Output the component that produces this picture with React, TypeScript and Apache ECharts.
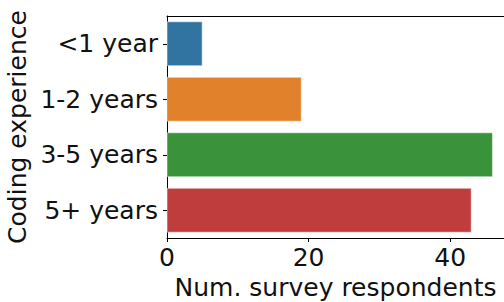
import React, { useEffect, useRef } from "react";
import * as echarts from "echarts";

const categories = ["<1 year", "1-2 years", "3-5 years", "5+ years"];
const respondents = [5, 19, 46, 43];
const barColors = ["#3274a1", "#e1812c", "#3a923a", "#c03d3e"];
const xTicks = [0, 20, 40];

export default function App() {
  const ref = useRef<HTMLDivElement>(null);
  useEffect(() => {
    if (!ref.current) return;
    const chart = echarts.init(ref.current, undefined, { renderer: "svg" });
    const font = "DejaVu Sans";
    chart.setOption({
      animation: false,
      grid: {
        left: 167,
        right: 0,
        top: 16,
        bottom: 64,
        outerBoundsMode: "none",
        containLabel: false,
      },
      xAxis: [
        {
          type: "value",
          min: 0,
          max: 47.6,
          interval: 20,
          name: "Num. survey respondents",
          nameLocation: "middle",
          nameGap: 34,
          nameTextStyle: { fontFamily: font, fontSize: 25, color: "#111" },
          axisLine: { show: true, lineStyle: { color: "#000", width: 1 } },
          axisTick: { show: true, length: 4, lineStyle: { color: "#000" } },
          splitLine: { show: false },
          axisLabel: {
            fontFamily: font,
            fontSize: 25,
            color: "#111",
            margin: 7,
            showMaxLabel: false,
            formatter: (v: number) => (xTicks.includes(v) ? String(v) : ""),
          },
        },
        {
          type: "value",
          position: "top",
          min: 0,
          max: 47.6,
          axisLine: { show: true, lineStyle: { color: "#000", width: 1 } },
          axisTick: { show: false },
          axisLabel: { show: false },
          splitLine: { show: false },
        },
      ],
      yAxis: {
        type: "category",
        data: categories,
        inverse: true,
        name: "Coding experience",
        nameLocation: "middle",
        nameRotate: 90,
        nameGap: 133,
        nameTextStyle: { fontFamily: font, fontSize: 25, color: "#111" },
        axisLine: { show: true, lineStyle: { color: "#000", width: 1 } },
        axisTick: { show: true, length: 4, alignWithLabel: true, lineStyle: { color: "#000" } },
        axisLabel: { fontFamily: font, fontSize: 25, color: "#111", margin: 9 },
        splitLine: { show: false },
      },
      series: [
        {
          type: "bar",
          xAxisIndex: 0,
          data: respondents.map((v, i) => ({ value: v, itemStyle: { color: barColors[i] } })),
          barWidth: "80%",
          itemStyle: { borderColor: "#ffffff", borderWidth: 0.5 },
        },
      ],
    });
    return () => chart.dispose();
  }, []);
  return <div ref={ref} style={{ width: 504, height: 302, position: "absolute", left: 0, top: 0 }} />;
}
